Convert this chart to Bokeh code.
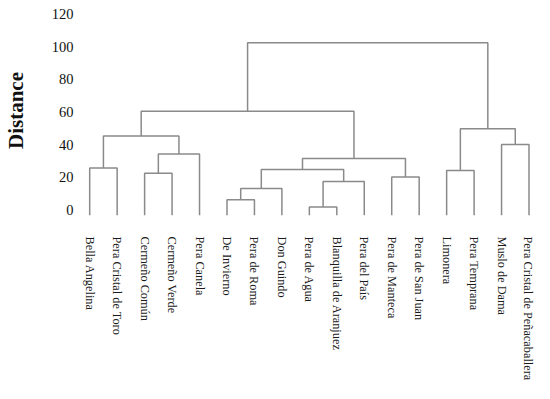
import math
from bokeh.plotting import figure
from bokeh.models import FixedTicker
from bokeh.embed import file_html
from bokeh.resources import INLINE

# Leaves (left to right)
leaf_names = [
    "Bella Angelina", "Pera Cristal de Toro", "Cermeño Común", "Cermeño Verde",
    "Pera Canela", "De Invierno", "Pera de Roma", "Don Guindo", "Pera de Agua",
    "Blanquilla de Aranjuez", "Pera del País", "Pera de Manteca",
    "Pera de San Juan", "Limonera", "Pera Temprana", "Muslo de Dama",
    "Pera Cristal de Peñacaballera",
]

# Merges (scipy-like: new node ids start at 17)
merge_left = [5, 17, 8, 19, 18, 11, 21, 0, 2, 25, 24, 27, 13, 15, 29, 28]
merge_right = [6, 7, 9, 10, 20, 12, 22, 1, 3, 4, 26, 23, 14, 16, 30, 31]
merge_height = [6.0, 13.0, 1.6, 17.2, 24.7, 20.0, 31.4, 25.5, 22.3, 34.2,
                45.2, 60.5, 24.0, 40.0, 49.7, 102.5]

y_ticks = [0, 20, 40, 60, 80, 100, 120]
LEAF_BOTTOM = -3.5

node_x = list(range(len(leaf_names)))
node_h = [LEAF_BOTTOM] * len(leaf_names)
xs, ys = [], []
for l, r, h in zip(merge_left, merge_right, merge_height):
    xs.append([node_x[l], node_x[l], node_x[r], node_x[r]])
    ys.append([node_h[l], h, h, node_h[r]])
    node_x.append((node_x[l] + node_x[r]) / 2)
    node_h.append(h)

p = figure(width=534, height=383, output_backend="svg", toolbar_location=None,
           x_range=(-0.08, 16.2), y_range=(-6.7, 128.5),
           min_border_left=85, min_border_right=0, min_border_top=0,
           min_border_bottom=161)

p.multi_line(xs, ys, line_color="#8a8a8a", line_width=1.5)

p.xgrid.visible = False
p.ygrid.visible = False
p.outline_line_color = None

xa = p.xaxis[0]
xa.ticker = FixedTicker(ticks=list(range(len(leaf_names))))
xa.major_label_overrides = {i: n for i, n in enumerate(leaf_names)}
xa.major_label_orientation = -math.pi / 2
xa.major_label_text_font = "Liberation Serif"
xa.major_label_text_font_size = "12.3px"
xa.major_label_text_color = "#1a1a1a"
xa.major_label_standoff = 10
xa.axis_line_color = None
xa.major_tick_line_color = None
xa.minor_tick_line_color = None

ya = p.yaxis[0]
ya.ticker = FixedTicker(ticks=y_ticks)
ya.major_label_text_font = "Liberation Serif"
ya.major_label_text_font_size = "14.5px"
ya.major_label_text_color = "#111111"
ya.major_label_text_align = "left"
ya.major_label_standoff = 8
ya.axis_line_color = None
ya.major_tick_line_color = None
ya.minor_tick_line_color = None
ya.axis_label = "Distance"
ya.axis_label_text_font = "Liberation Serif"
ya.axis_label_text_font_style = "bold"
ya.axis_label_text_font_size = "21px"
ya.axis_label_text_color = "#111111"
ya.axis_label_standoff = 21

open("out.html", "w").write(file_html(p, INLINE))
